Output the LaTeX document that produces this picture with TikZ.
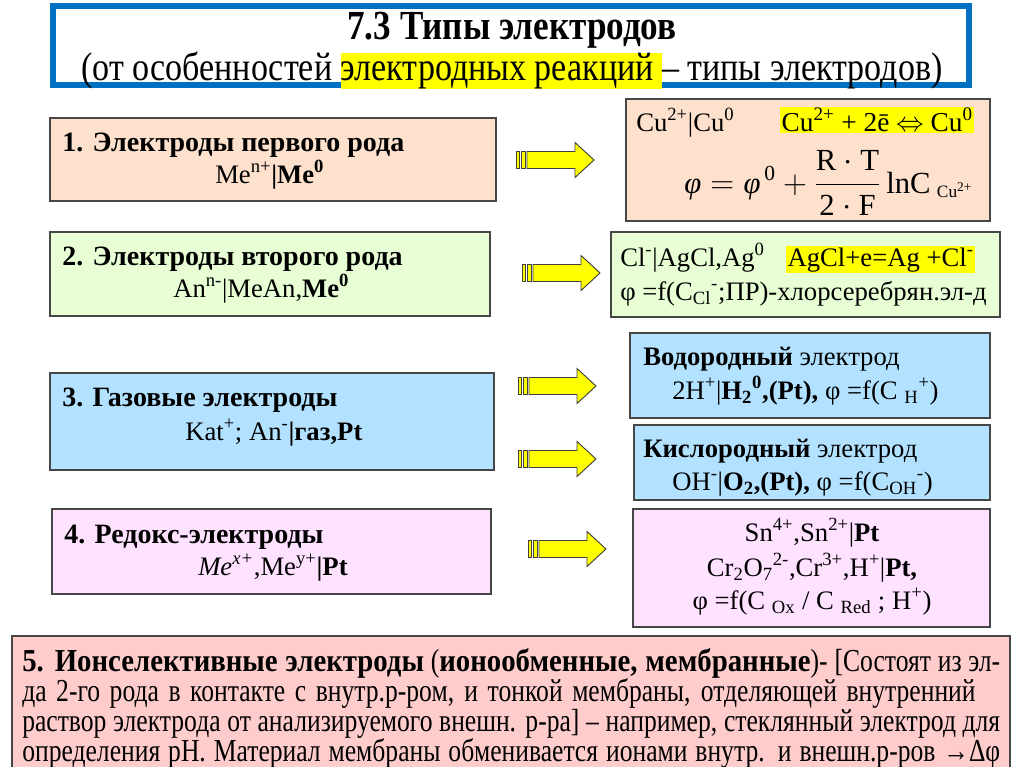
\documentclass[tikz,border=0pt]{standalone}
\usepackage{fontspec}
\usepackage{amsmath}
\setmainfont{Liberation Serif}
\newfontfamily\cond[FakeStretch=0.8]{Liberation Serif}
\newfontfamily\condB[FakeStretch=0.9]{Liberation Serif}
\newfontfamily\condT[FakeStretch=0.85]{Liberation Serif}
\usetikzlibrary{fit}
\definecolor{titleblue}{RGB}{0,112,192}
\definecolor{peach}{RGB}{253,225,205}
\definecolor{lgreen}{RGB}{232,255,214}
\definecolor{lblue}{RGB}{178,226,255}
\definecolor{lpink}{RGB}{255,226,255}
\definecolor{lred}{RGB}{255,204,204}
\definecolor{edge}{RGB}{70,70,70}
\definecolor{hlyellow}{RGB}{255,255,0}
\newcommand{\hl}[1]{{\setlength{\fboxsep}{1pt}\colorbox{hlyellow}{#1}}}
\newcommand{\sps}[1]{\textsuperscript{#1}}
\newcommand{\sbs}[1]{\textsubscript{#1}}
\newcommand{\spread}[2]{\makebox[#1pt][s]{#2}}
\begin{document}
\begin{tikzpicture}[x=0.75pt,y=-0.75pt,
  box/.style={draw=edge,line width=0.9pt,inner sep=0pt},
  txt/.style={inner sep=0pt,anchor=base west},
  ctxt/.style={inner sep=0pt,anchor=base},
  head/.style={txt,font=\bfseries\fontsize{21}{25}\selectfont},
  sub/.style={txt,font=\fontsize{20}{24}\selectfont},
  rtxt/.style={txt,font=\fontsize{20}{24}\selectfont},
  rctxt/.style={ctxt,font=\fontsize{20}{24}\selectfont},
  ftxt/.style={txt,font=\cond\fontsize{24}{26}\selectfont},
  arrowpart/.style={draw=black!75,line width=0.7pt,fill=hlyellow},
  bararrow/.pic={
    \draw[arrowpart] (0,-8.5) rectangle (3,8.5);
    \draw[arrowpart] (5,-8.5) rectangle (9,8.5);
    \draw[arrowpart] (11,-8.5) -- (59,-8.5) -- (59,-17.5) -- (78,0) -- (59,17.5) -- (59,8.5) -- (11,8.5) -- cycle;
  }]
\useasboundingbox (0,0) rectangle (1024,767);
\fill[white] (0,0) rectangle (1024,767);

% title
\node[draw=titleblue,line width=4.5pt,inner sep=0pt,fit={(53,6) (969,85)}] (title) {};
\node[ctxt,font=\condT\bfseries\fontsize{31}{34}\selectfont] (t1) at (512,40) {7.3 Типы электродов};
\node[ctxt,font=\condT\fontsize{30}{32}\selectfont] (t2) at (512,80) {(от особенностей {\setlength{\fboxsep}{0pt}\colorbox{hlyellow}{\rule[-0.2em]{0pt}{0.86em}электродных реакций }}– типы электродов)};

% left boxes
\node[box,fill=peach,fit={(50,118) (496,201)}] (b1) {};
\node[head] (b1a) at (62,151) {1. Электроды первого рода};
\node[sub] (b1b) at (215,183) {Me\sps{n+}\textbf{|Me\sps{0}}};

\node[box,fill=lgreen,fit={(50,232) (490,316)}] (b2) {};
\node[head] (b2a) at (62,265) {2. Электроды второго рода};
\node[sub] (b2b) at (173,297) {An\sps{n-}|MeAn,\textbf{Me\sps{0}}};

\node[box,fill=lblue,fit={(50,373) (494,470)}] (b3) {};
\node[head] (b3a) at (62,406) {3. Газовые электроды};
\node[sub] (b3b) at (185,440) {Kat\sps{+}; An\sps{-}\textbf{|газ,Pt}};

\node[box,fill=lpink,fit={(52,509) (491,594)}] (b4) {};
\node[head] (b4a) at (64,543) {4. Редокс-электроды};
\node[sub] (b4b) at (198,575) {\textit{Me\sps{x+}},Me\sps{y+}\textbf{|Pt}};

% right boxes
\node[box,fill=peach,fit={(626,99) (990,221)}] (r1) {};
\node[rtxt] (r1a) at (636,131) {Cu\sps{2+}|Cu\sps{0}};
\node[txt,font=\fontsize{20.5}{24}\selectfont] (r1b) at (780,131) {\hl{Cu\sps{2+} + 2ē $\Leftrightarrow$ Cu\sps{0}}};
\node[txt,font=\fontsize{23}{27}\selectfont] (r1c) at (684,193) {$\text{\textit{φ}} = \text{\textit{φ}}^{\,\text{0}} + \dfrac{\text{R}\cdot\text{T}}{\text{2}\cdot\text{F}}\,\text{lnC}_{\;\text{\fontsize{13}{15}\selectfont Cu}^{\text{\fontsize{10}{12}\selectfont 2+}}}$};

\node[box,fill=lgreen,fit={(611,232) (1000,317)}] (r2) {};
\node[rtxt] (r2a) at (620,266) {Cl\sps{-}|AgCl,Ag\sps{0}};
\node[rtxt] (r2b) at (786,266) {\hl{AgCl+e=Ag +Cl\sps{-}}};
\node[rtxt] (r2c) at (620,300) {φ =f(C\sbs{Cl}\sps{-};ПР)-хлорсеребрян.эл-д};

\node[box,fill=lblue,fit={(630,333) (990,418)}] (r3) {};
\node[rtxt] (r3a) at (643,365) {\textbf{Водородный} электрод};
\node[rtxt] (r3b) at (672,399) {2H\sps{+}|\textbf{H\sbs{2}\sps{0},(Pt),} φ =f(C \sbs{H}\sps{+})};

\node[box,fill=lblue,fit={(634,425) (990,500)}] (r4) {};
\node[rtxt] (r4a) at (643,457) {\textbf{Кислородный} электрод};
\node[rtxt] (r4b) at (672,490) {OH\sps{-}|\textbf{O\sbs{2},(Pt),} φ =f(C\sbs{OH}\sps{-})};

\node[box,fill=lpink,fit={(633,509) (990,627)}] (r5) {};
\node[rctxt] (r5a) at (812,541) {Sn\sps{4+},Sn\sps{2+}|\textbf{Pt}};
\node[rctxt] (r5b) at (812,576) {Cr\sbs{2}O\sbs{7}\sps{2-},Cr\sps{3+},H\sps{+}|\textbf{Pt,}};
\node[rctxt] (r5c) at (812,609) {φ =f(C \sbs{Ox} / C \sbs{Red} ; H\sps{+})};

% arrows
\pic at (516,160) {bararrow};
\pic at (522,273) {bararrow};
\pic at (518,386) {bararrow};
\pic at (518,459) {bararrow};
\pic at (528,549) {bararrow};

% box 5
\node[box,fill=lred,fit={(12,636) (1010,780)}] (b5) {};
\node[ftxt] (b5a) at (22,671) {\spread{733.5}{{\condB\bfseries 5. Ионселективные электроды} ({\condB\bfseries ионообменные, мембранные})- [Состоят из эл-}};
\node[ftxt] (b5b) at (22,701) {\spread{715}{да 2-го рода в контакте с внутр.р-ром, и тонкой мембраны, отделяющей внутренний}};
\node[ftxt] (b5c) at (22,731) {\spread{733.5}{раствор электрода от анализируемого внешн. р-ра] – например, стеклянный электрод для}};
\node[ftxt] (b5d) at (22,761) {\spread{733.5}{определения pH. Материал мембраны обменивается ионами внутр. и внешн.р-ров →Δφ}};
\end{tikzpicture}
\end{document}
